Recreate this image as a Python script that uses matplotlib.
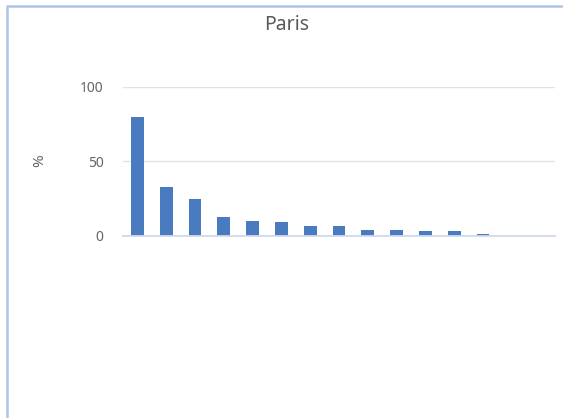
import numpy as np
import matplotlib
matplotlib.use("Agg")
import matplotlib.pyplot as plt
from matplotlib.lines import Line2D

plt.rcParams['font.family'] = ['Noto Sans', 'DejaVu Sans']

categories = [str(i) for i in range(1, 16)]
values = [80, 33, 24.6, 12.5, 9.9, 9.2, 6.5, 6.5, 4.0, 4.0, 3.1, 3.1, 1.5, 0.3, 0.3]
yticks = [0, 50, 100]

W, H = 563, 418
fig = plt.figure(figsize=(W / 100, H / 100), dpi=100)
fig.patch.set_facecolor("white")

# plot area placed in pixel terms
left, right, top, bottom = 123, 555, 87, 236
ax = fig.add_axes([left / W, 1 - bottom / H, (right - left) / W, (bottom - top) / H])

x = np.arange(len(values))
ax.bar(x, values, width=0.44, color="#4a7bc0", zorder=3)
ax.set_xlim(-0.5, len(values) - 0.5)
ax.set_ylim(0, 100)
ax.set_yticks(yticks)
ax.set_xticks([])
ax.yaxis.grid(True, color="#e3e3e3", linewidth=1, zorder=0)
for s in ["left", "right", "top"]:
    ax.spines[s].set_visible(False)
ax.spines["bottom"].set_color("#d0d9ec")
ax.spines["bottom"].set_linewidth(1.3)
ax.spines["bottom"].set_zorder(4)
ax.tick_params(axis="y", length=0, pad=14, labelsize=10, labelcolor="#666666")

fig.text(287 / W, 1 - 25 / H, "Paris", ha="center", va="center",
         fontsize=14, color="#595959")
fig.text(40 / W, 1 - 161 / H, "%", ha="center", va="center",
         fontsize=11, color="#666666", rotation=90)

# chart border (left and top visible)
fig.add_artist(Line2D([6.5 / W, 6.5 / W, 1], [0, 1 - 5.5 / H, 1 - 5.5 / H],
                      transform=fig.transFigure, color="#aec4e6", linewidth=1.8))

fig.savefig("out.png", dpi=100)
